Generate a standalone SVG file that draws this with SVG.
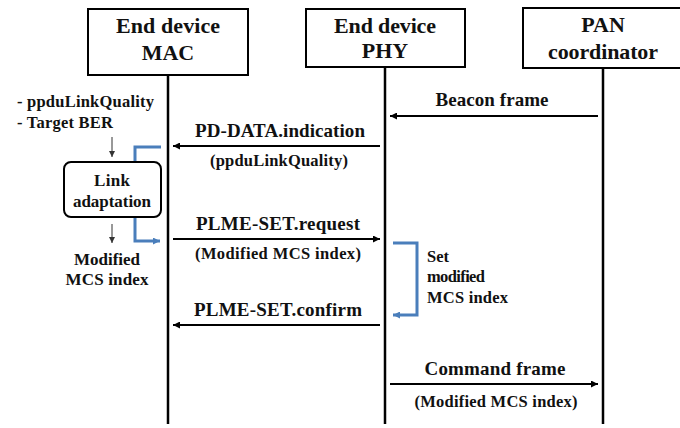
<svg xmlns="http://www.w3.org/2000/svg" width="680" height="428" viewBox="0 0 680 428">
<defs>
<marker id="ah" viewBox="0 0 10 10" refX="10" refY="5" markerWidth="9" markerHeight="7" markerUnits="userSpaceOnUse" orient="auto"><path d="M0,0 L10,5 L0,10 z" fill="#000"/></marker>
<marker id="ahs" viewBox="0 0 10 10" refX="10" refY="5" markerWidth="7" markerHeight="6" markerUnits="userSpaceOnUse" orient="auto"><path d="M0,0 L10,5 L0,10 z" fill="#333"/></marker>
<marker id="ahb" viewBox="0 0 10 10" refX="10" refY="5" markerWidth="8" markerHeight="7" markerUnits="userSpaceOnUse" orient="auto"><path d="M0,0 L10,5 L0,10 z" fill="#4a7ebb"/></marker>
</defs>
<style>
.h{font-size:22px;text-anchor:middle;}
.m{font-size:19px;text-anchor:middle;}
.p{font-size:16.5px;text-anchor:middle;}
.n{font-size:16.5px;}
.c{font-size:17px;text-anchor:middle;}
.box{fill:#fff;stroke:#000;stroke-width:2;}
.life{stroke:#000;stroke-width:2.5;fill:none;}
.msg{stroke:#000;stroke-width:2;fill:none;marker-end:url(#ah);}
.sm{stroke:#333;stroke-width:1;fill:none;marker-end:url(#ahs);}
.blue{stroke:#4a7ebb;stroke-width:3;fill:none;marker-end:url(#ahb);}
</style>
<rect width="680" height="428" fill="#fff"/>
<g id="lifelines">
<line class="life" x1="168" y1="75" x2="168" y2="424"/>
<line class="life" x1="385" y1="67" x2="385" y2="424"/>
<line class="life" x1="603" y1="68" x2="603" y2="424"/>
</g>
<g id="connectors">
<line class="msg" x1="598" y1="116" x2="390" y2="116"/>
<line class="msg" x1="380" y1="146" x2="173" y2="146"/>
<line class="msg" x1="173" y1="239" x2="380" y2="239"/>
<line class="msg" x1="380" y1="325" x2="173" y2="325"/>
<line class="msg" x1="390" y1="384" x2="598" y2="384"/>
<line class="sm" x1="112" y1="137" x2="112" y2="157"/>
<line class="sm" x1="112" y1="224" x2="112" y2="243"/>
<path class="blue" d="M161,147 H135 V241 H160"/>
<path class="blue" d="M393,243 H417 V315 H393"/>
</g>
<g font-family="Liberation Serif, serif" font-weight="bold" fill="#111">
<g id="mac">
<rect class="box" x="88" y="9" width="160" height="66"/>
<text class="h" x="168" y="33" textLength="104">End device</text>
<text class="h" x="168" y="60">MAC</text>
</g>
<g id="phy">
<rect class="box" x="306" y="9" width="159" height="58"/>
<text class="h" x="385" y="33" textLength="102">End device</text>
<text class="h" x="385" y="58">PHY</text>
</g>
<g id="pan">
<rect class="box" x="523" y="8" width="162" height="60"/>
<text class="h" x="603" y="32">PAN</text>
<text class="h" x="603" y="59" textLength="110">coordinator</text>
</g>
<g id="link-adaptation">
<rect class="box" x="64" y="162" width="97" height="55" rx="7"/>
<text class="c" x="112" y="186" textLength="36">Link</text>
<text class="c" x="112" y="207" textLength="78">adaptation</text>
</g>
<g id="notes">
<text class="n" x="17" y="107" textLength="137">- ppduLinkQuality</text>
<text class="n" x="17" y="128" textLength="96">- Target BER</text>
<text class="c" x="107" y="265" textLength="66">Modified</text>
<text class="c" x="107" y="285" textLength="83">MCS index</text>
<text class="n" x="427" y="262">Set</text>
<text class="n" x="427" y="282" textLength="58">modified</text>
<text class="n" x="427" y="303" textLength="81">MCS index</text>
</g>
<g id="labels">
<text class="m" x="492" y="106" textLength="113">Beacon frame</text>
<text class="m" x="280" y="137" textLength="170">PD-DATA.indication</text>
<text class="p" x="279" y="166" textLength="138">(ppduLinkQuality)</text>
<text class="m" x="278" y="230" textLength="164">PLME-SET.request</text>
<text class="p" x="278" y="259" textLength="166">(Modified MCS index)</text>
<text class="m" x="278" y="316" textLength="168">PLME-SET.confirm</text>
<text class="m" x="495" y="375" textLength="141">Command frame</text>
<text class="p" x="496" y="407" textLength="163">(Modified MCS index)</text>
</g>
</g>
</svg>
